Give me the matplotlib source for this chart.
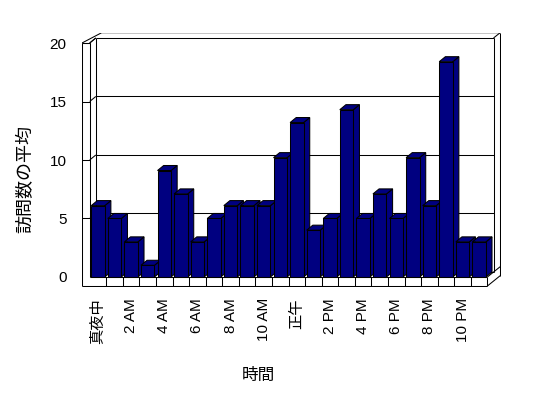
import matplotlib
matplotlib.use("Agg")
import matplotlib.pyplot as plt
from matplotlib.patches import Polygon

plt.rcParams['font.family'] = ['Liberation Sans', 'Noto Sans CJK JP']

# average visits per hour
hours = list(range(24))
visits = [6.1, 5.0, 3.0, 1.0, 9.1, 7.1, 3.0, 5.0, 6.1, 6.1, 6.1, 10.2,
          13.2, 4.0, 5.0, 14.3, 5.0, 7.1, 5.0, 10.2, 6.1, 18.4, 3.0, 3.0]
tick_pos = list(range(0, 24, 2))
tick_labels = ['真夜中', '2 AM', '4 AM', '6 AM', '8 AM', '10 AM',
               '正午', '2 PM', '4 PM', '6 PM', '8 PM', '10 PM']
y_ticks = [0, 5, 10, 15, 20]

navy = '#000080'
lw = 0.75

# depth offset of the 3D look (in data units), bar width
dx, dy = 0.37, 0.43
odx, ody = 0.40, 0.45   # thickness of the back wall
w = 0.815

fig = plt.figure(figsize=(5.48, 3.98), dpi=100)
W, H = 548, 398
ax = fig.add_axes([82 / W, 1 - 287 / H, 419 / W, 254 / H])
ax.set_xlim(-0.965, 24.32)
ax.set_ylim(-0.855, 20.855)
for s in ax.spines.values():
    s.set_visible(False)
ax.patch.set_alpha(0)

def line(xs, ys, z=1):
    ax.plot(xs, ys, color='black', lw=lw, zorder=z, solid_capstyle='butt')

x0, x1 = -0.5, 23.5
xw = -0.965          # outer edge of left wall
yf = -0.77           # bottom edge of the floor

# back wall + grid
for v in y_ticks[1:]:
    line([x0 + dx, x1 + dx], [v + dy, v + dy])
    line([x0, x0 + dx], [v, v + dy])
    line([xw, x0], [v, v])
line([x0 + dx, x1 + dx], [dy, dy])
# top outer edge
line([xw, x0 + dx + odx - 0.05, x1 + dx + odx], [20, 20 + dy + ody, 20 + dy + ody])
line([x0, x0 + dx], [20, 20 + dy])
line([xw, x0], [20, 20])
# left wall
line([xw, xw], [yf, 20])
line([x0, x0], [0, 20])
line([x0 + dx, x0 + dx], [dy, 20 + dy])
# right side of back wall
line([x1 + dx, x1 + dx], [dy, 20 + dy])
line([x1 + dx, x1 + dx + odx], [20 + dy, 20 + dy + ody])
line([x1 + dx + odx, x1 + dx + odx], [20 + dy + ody, yf + dy + ody])
# floor
line([xw, x1], [yf, yf])
line([x0, x1], [0, 0], z=5)
line([x1, x1], [yf, 0])
line([x1, x1 + dx + odx], [yf, yf + dy + ody])
line([x1, x1 + dx + odx], [0, dy + ody])
for b in range(1, 24):
    line([b - 0.5, b - 0.5], [yf, 0])

# bars: side and top faces, then the front faces
for x, v in zip(hours, visits):
    xl, xr = x - w / 2, x + w / 2
    side = Polygon([(xr, 0), (xr, v), (xr + dx, v + dy), (xr + dx, dy)],
                   closed=True, facecolor=navy, edgecolor='black', lw=lw, zorder=3)
    top = Polygon([(xl, v), (xr, v), (xr + dx, v + dy), (xl + dx, v + dy)],
                  closed=True, facecolor=navy, edgecolor='black', lw=lw, zorder=3)
    ax.add_patch(side)
    ax.add_patch(top)
ax.bar(hours, visits, width=w, color=navy, edgecolor='black', lw=lw, zorder=4)

ax.set_xticks(tick_pos)
ax.set_xticklabels(tick_labels, rotation=90, fontsize=11)
ax.set_yticks(y_ticks)
ax.set_yticklabels([str(v) for v in y_ticks], fontsize=11)
ax.tick_params(axis='x', length=0, pad=8)
ax.tick_params(axis='y', length=0, pad=11)

fig.text(25.5 / W, 1 - 179 / H, '訪問数の平均', rotation=90, ha='center', va='center', fontsize=13)
fig.text(258 / W, 1 - 375 / H, '時間', ha='center', va='center', fontsize=12)

fig.savefig('out.png', dpi=100)
